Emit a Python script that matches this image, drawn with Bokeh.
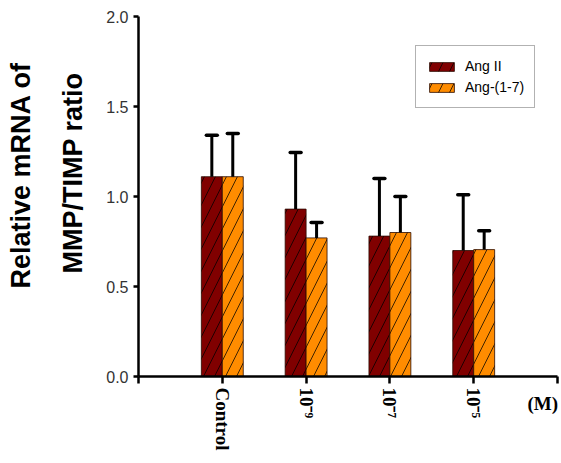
from bokeh.plotting import figure
from bokeh.models import (ColumnDataSource, Range1d, FixedTicker, PrintfTickFormatter,
                          Legend, LegendItem, Title)
from bokeh.embed import file_html
from bokeh.resources import INLINE

# Data: relative MMP/TIMP mRNA ratio by treatment
categories = ["Control", "10\u207b\u2079", "10\u207b\u2077", "10\u207b\u2075"]
cat_pos = [1, 2, 3, 4]
ang2_mean = [1.11, 0.93, 0.78, 0.70]
ang2_upper = [1.34, 1.245, 1.10, 1.01]
ang17_mean = [1.11, 0.77, 0.80, 0.705]
ang17_upper = [1.35, 0.855, 1.00, 0.81]

BAR_W = 0.25
CAP_HALF = 0.065
W, H = 561, 463

p = figure(width=W, height=H, output_backend="svg", toolbar_location=None,
           x_range=Range1d(0, 5), y_range=Range1d(0, 2.0),
           min_border_left=136, min_border_right=4, min_border_top=16,
           min_border_bottom=87)
p.outline_line_color = None
p.background_fill_color = "white"
p.border_fill_color = "white"
p.xgrid.visible = False
p.ygrid.visible = False


def series_source(offset, means, uppers):
    xs = [c + offset for c in cat_pos]
    return ColumnDataSource(dict(
        x=xs, top=means, upper=uppers,
        cx0=[x - CAP_HALF for x in xs], cx1=[x + CAP_HALF for x in xs],
    ))


src_a = series_source(-BAR_W / 2, ang2_mean, ang2_upper)
src_b = series_source(BAR_W / 2, ang17_mean, ang17_upper)

bar_style = dict(width=BAR_W, bottom=0, line_color="#2a0a00", line_width=0.8,
                 hatch_pattern="/", hatch_color="black", hatch_alpha=0.75,
                 hatch_scale=22, hatch_weight=1)
ra = p.vbar(x="x", top="top", source=src_a, fill_color="#800000", **bar_style)
rb = p.vbar(x="x", top="top", source=src_b, fill_color="#FF8C00", **bar_style)

# upper error bars with caps
for src in (src_a, src_b):
    p.segment(x0="x", y0="top", x1="x", y1="upper", source=src,
              line_color="black", line_width=3)
    p.segment(x0="cx0", y0="upper", x1="cx1", y1="upper", source=src,
              line_color="black", line_width=3.5, line_cap="round")

# x axis
xa = p.xaxis[0]
xa.ticker = FixedTicker(ticks=[0, 1, 2, 3, 4, 5])
xa.major_label_overrides = {0: "", 1: categories[0], 2: categories[1],
                            3: categories[2], 4: categories[3], 5: ""}
xa.major_label_orientation = "vertical"
xa.major_label_text_font = "Liberation Serif"
xa.major_label_text_font_style = "bold"
xa.major_label_text_font_size = "19px"
xa.major_label_text_color = "black"
xa.major_label_standoff = 4
xa.axis_line_width = 2.5
xa.axis_line_color = "black"
xa.major_tick_line_width = 2.5
xa.major_tick_out = 7
xa.major_tick_in = 0
xa.minor_tick_line_color = None

# unit of the concentrations: the axis label, centred on the axis, led by
# non-breaking spaces so that "(M)" lands at the right end of the axis
xa.axis_label = "\u00a0" * 82 + "(M)"
xa.axis_label_standoff = -60
xa.axis_label_text_font = "Liberation Serif"
xa.axis_label_text_font_style = "bold"
xa.axis_label_text_font_size = "19px"
xa.axis_label_text_color = "black"

# y axis
ya = p.yaxis[0]
ya.ticker = FixedTicker(ticks=[0, 0.5, 1.0, 1.5, 2.0])
ya.formatter = PrintfTickFormatter(format="%.1f")
ya.major_label_text_font = "Liberation Sans"
ya.major_label_text_font_size = "16px"
ya.major_label_text_color = "#333333"
ya.major_label_standoff = 5
ya.axis_line_width = 2.5
ya.axis_line_color = "black"
ya.major_tick_line_width = 2.5
ya.major_tick_out = 5
ya.major_tick_in = 0
ya.minor_tick_line_color = None

# y axis title, two lines, stacked outward from the axis
title_style = dict(align="left", text_font="Liberation Sans",
                   text_font_style="bold", text_font_size="27px",
                   text_color="black")
p.add_layout(Title(text="MMP/TIMP ratio", standoff=32, offset=103, **title_style), "left")
p.add_layout(Title(text="Relative mRNA of", standoff=7, offset=88, **title_style), "left")

legend = Legend(items=[LegendItem(label="Ang II", renderers=[ra]),
                       LegendItem(label="Ang-(1-7)", renderers=[rb])],
                location=(277, 268), orientation="vertical",
                glyph_width=31, glyph_height=11, label_height=20,
                label_standoff=8, padding=10, spacing=1, margin=0,
                label_text_font="Liberation Sans", label_text_font_size="14px",
                label_text_color="black",
                border_line_color="#666666", border_line_width=1,
                background_fill_color="white", background_fill_alpha=1)
p.add_layout(legend, "center")

open("out.html", "w").write(file_html(p, INLINE))
